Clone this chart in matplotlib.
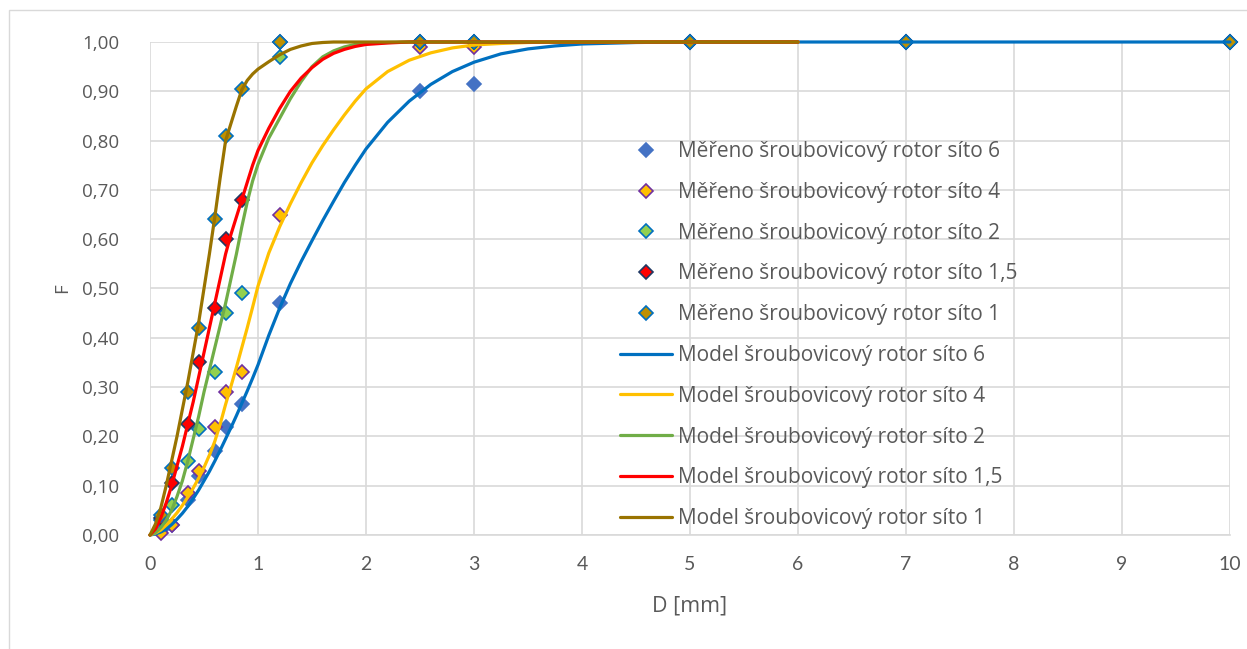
import numpy as np
import matplotlib
matplotlib.use("Agg")
from matplotlib import pyplot as plt
from matplotlib.patches import Rectangle
from matplotlib.ticker import FuncFormatter, MultipleLocator

plt.rcParams['font.family'] = ['Open Sans', 'DejaVu Sans']

# měřené body (D v mm, F podíl)
d_mer = [0.1, 0.2, 0.35, 0.45, 0.6, 0.7, 0.85, 1.2, 2.5, 3, 5, 7, 10]
f_mer_6 = [0.01, 0.02, 0.07, 0.12, 0.17, 0.22, 0.265, 0.47, 0.90, 0.915, 1.0, 1.0, 1.0]
f_mer_4 = [0.005, 0.02, 0.085, 0.13, 0.22, 0.29, 0.33, 0.65, 0.99, 0.99, 1.0, 1.0, 1.0]
f_mer_2 = [0.03, 0.06, 0.15, 0.215, 0.33, 0.45, 0.49, 0.97, 1.0, 1.0, 1.0, 1.0, 1.0]
f_mer_15 = [0.035, 0.105, 0.225, 0.35, 0.46, 0.60, 0.68, 1.0, 1.0, 1.0, 1.0, 1.0, 1.0]
f_mer_1 = [0.04, 0.135, 0.29, 0.42, 0.64, 0.81, 0.905, 1.0, 1.0, 1.0, 1.0, 1.0, 1.0]

# modelové křivky
d_mod = [0, 0.05, 0.1, 0.15, 0.2, 0.25, 0.3, 0.35, 0.4, 0.45, 0.5, 0.55, 0.6, 0.65,
         0.7, 0.75, 0.8, 0.85, 0.9, 0.95, 1.0,
         1.1, 1.2, 1.3, 1.4, 1.5, 1.6, 1.7, 1.8, 1.9, 2.0,
         2.2, 2.4, 2.6, 2.8,
         3.0, 3.25, 3.5, 3.75, 4.0,
         4.5, 5.0, 6.0]
d_mod_6 = d_mod + [7.0, 8.0, 9.0, 10.0]
f_mod_6 = [0, 0.002, 0.006, 0.012, 0.021, 0.032, 0.044, 0.058, 0.074, 0.091, 0.110,
           0.129, 0.150, 0.172, 0.195, 0.218, 0.242, 0.267, 0.292, 0.318, 0.345,
           0.405, 0.46, 0.51, 0.555, 0.597, 0.638, 0.677, 0.715, 0.75, 0.783,
           0.837, 0.880, 0.914, 0.940,
           0.959, 0.976, 0.986, 0.992, 0.996,
           0.999, 1.0, 1.0,
           1.0, 1.0, 1.0, 1.0]
f_mod_4 = [0, 0.004, 0.01, 0.02, 0.032, 0.045, 0.06, 0.077, 0.095, 0.115, 0.137,
           0.162, 0.19, 0.225, 0.265, 0.302, 0.34, 0.38, 0.42, 0.462, 0.505,
           0.572, 0.625, 0.672, 0.715, 0.755, 0.79, 0.822, 0.852, 0.88, 0.905,
           0.94, 0.963, 0.978, 0.988,
           0.994, 0.997, 0.999, 1.0, 1.0,
           1.0, 1.0, 1.0]
f_mod_2 = [0, 0.005, 0.015, 0.03, 0.05, 0.078, 0.11, 0.15, 0.195, 0.24, 0.29,
           0.335, 0.38, 0.425, 0.47, 0.52, 0.57, 0.625, 0.675, 0.718, 0.752,
           0.805, 0.845, 0.885, 0.92, 0.95, 0.97, 0.982, 0.99, 0.995, 0.997,
           0.999, 1.0, 1.0, 1.0,
           1.0, 1.0, 1.0, 1.0, 1.0,
           1.0, 1.0, 1.0]
f_mod_15 = [0, 0.012, 0.035, 0.065, 0.10, 0.14, 0.18, 0.225, 0.27, 0.32, 0.37,
            0.42, 0.47, 0.52, 0.57, 0.61, 0.645, 0.68, 0.715, 0.75, 0.78,
            0.825, 0.865, 0.90, 0.927, 0.948, 0.965, 0.977, 0.985, 0.991, 0.995,
            0.998, 1.0, 1.0, 1.0,
            1.0, 1.0, 1.0, 1.0, 1.0,
            1.0, 1.0, 1.0]
f_mod_1 = [0, 0.022, 0.055, 0.10, 0.15, 0.20, 0.255, 0.31, 0.37, 0.43, 0.50,
           0.57, 0.645, 0.725, 0.80, 0.835, 0.87, 0.903, 0.922, 0.935, 0.945,
           0.96, 0.974, 0.985, 0.992, 0.997, 0.999, 1.0, 1.0, 1.0, 1.0,
           1.0, 1.0, 1.0, 1.0,
           1.0, 1.0, 1.0, 1.0, 1.0,
           1.0, 1.0, 1.0]

sita = ['6', '4', '2', '1,5', '1']

fig = plt.figure(figsize=(12.47, 6.49), dpi=100)
ax = fig.add_axes([150 / 1247, 1 - 535 / 649, 1080 / 1247, 493 / 649])

# rámeček oblasti grafu
fig.patches.append(Rectangle((9 / 1247, -0.1), 1.2, 1.1 - 10 / 649,
                             transform=fig.transFigure, fill=False,
                             edgecolor='#D9D9D9', lw=1.0))

mer_styl = [('#4472C4', '#4472C4'), ('#FFC000', '#7030A0'), ('#92D050', '#0070C0'),
            ('#FF0000', '#203864'), ('#BF9000', '#0070C0')]
for f, (fc, ec), s in zip([f_mer_6, f_mer_4, f_mer_2, f_mer_15, f_mer_1], mer_styl, sita):
    ax.plot(d_mer, f, ls='none', marker='D', ms=7.6, mfc=fc, mec=ec, mew=1.2,
            clip_on=False, zorder=3, label='Měřeno šroubovicový rotor síto ' + s)

mod_barvy = ['#0070C0', '#FFC000', '#70AD47', '#FF0000', '#997300']
for d, f, c, s in zip([d_mod_6, d_mod, d_mod, d_mod, d_mod],
                      [f_mod_6, f_mod_4, f_mod_2, f_mod_15, f_mod_1], mod_barvy, sita):
    ax.plot(d, f, color=c, lw=2.3, solid_capstyle='round', solid_joinstyle='round',
            clip_on=False, zorder=4, label='Model šroubovicový rotor síto ' + s)

ax.set_xlim(0, 10)
ax.set_ylim(0, 1)
ax.xaxis.set_major_locator(MultipleLocator(1))
ax.yaxis.set_major_locator(MultipleLocator(0.1))
ax.yaxis.set_major_formatter(FuncFormatter(lambda v, p: f'{v:.2f}'.replace('.', ',')))
ax.grid(True, color='#D9D9D9', lw=1.2)
ax.set_axisbelow(True)
for s in ['top', 'right', 'left']:
    ax.spines[s].set_visible(False)
ax.spines['bottom'].set_color('#D9D9D9')
ax.spines['bottom'].set_linewidth(1.2)
ax.tick_params(length=0, colors='#595959', labelsize=13.5)
ax.tick_params(axis='y', pad=22)
ax.tick_params(axis='x', pad=15)
for t in ax.get_xticklabels():
    t.set_family(['Lato', 'DejaVu Sans'])
    t.set_fontsize(14)

ax.set_xlabel('D [mm]', color='#595959', fontsize=15.5, labelpad=16)
ax.set_ylabel('F', color='#595959', fontsize=13.5, labelpad=8)

ax.legend(loc='upper left', bbox_to_anchor=(620 / 1247, 1 - 141 / 649),
          bbox_transform=fig.transFigure, frameon=False, fontsize=15,
          labelcolor='#595959', handlelength=2.5, handletextpad=0.28,
          labelspacing=0.95, borderpad=0, borderaxespad=0)

fig.savefig('out.png', dpi=100, facecolor='white')
